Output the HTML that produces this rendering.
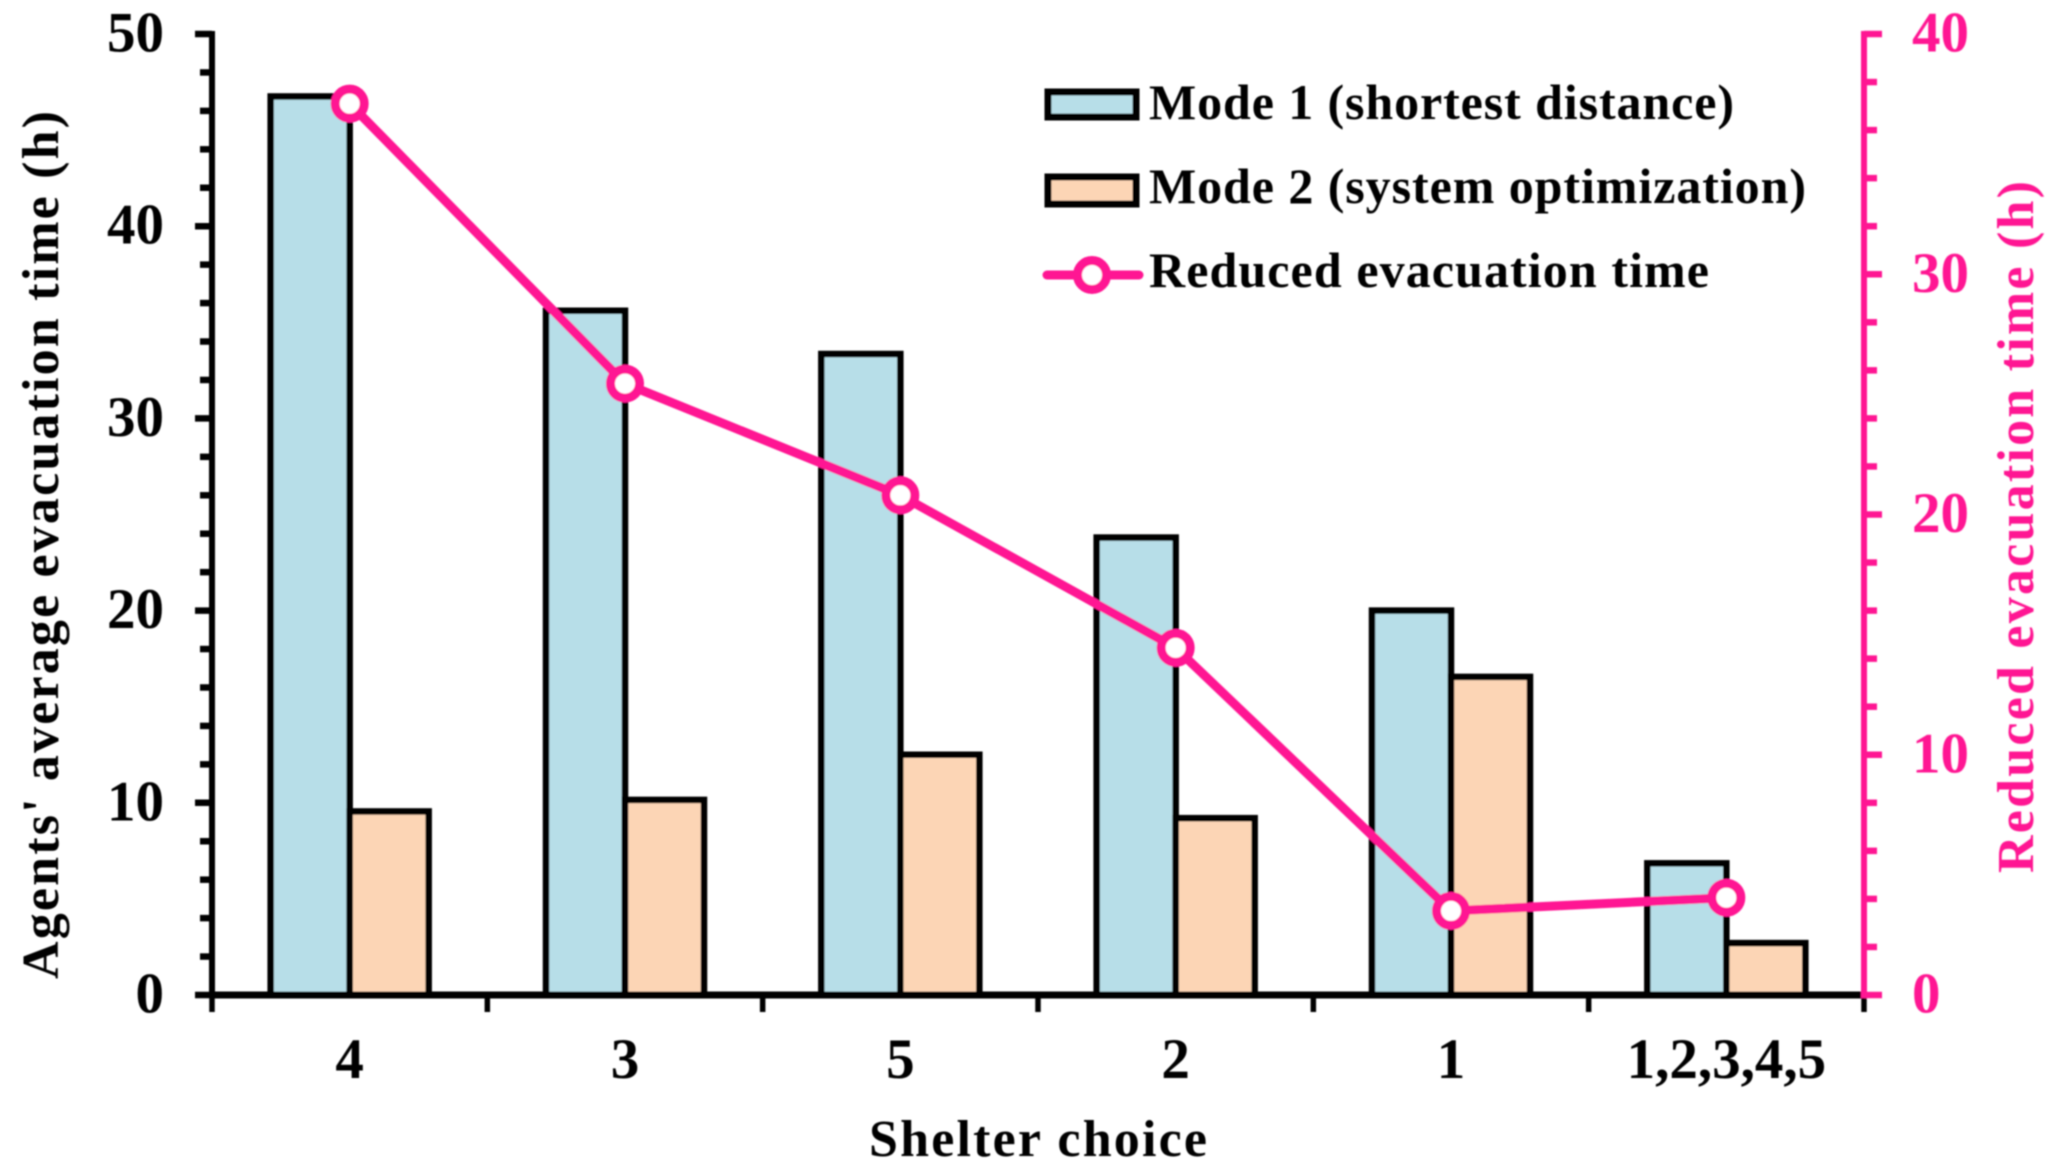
<!DOCTYPE html>
<html lang="en">
<head>
<meta charset="utf-8">
<title>Shelter choice evacuation time chart</title>
<style>
html,body{margin:0;padding:0;background:#fff;}
svg{display:block;}
text{font-family:"Liberation Serif",serif;font-weight:bold;}
</style>
</head>
<body>
<svg id="chart" xmlns="http://www.w3.org/2000/svg" width="2067" height="1172" viewBox="0 0 2067 1172">
  <defs>
    <filter id="soft" x="-2%" y="-2%" width="104%" height="104%"><feGaussianBlur stdDeviation="0.9"/></filter>
  </defs>
  <g id="root" filter="url(#soft)">
    <g id="bars"></g>
    <g id="axes"></g>
    <g id="line"></g>
    <g id="labels"></g>

    <text transform="translate(58,545) rotate(-90)" text-anchor="middle" font-size="52" textLength="868" lengthAdjust="spacing" fill="#000">Agents' average evacuation time (h)</text>
    <text transform="translate(2033,527) rotate(-90)" text-anchor="middle" font-size="52" textLength="692" lengthAdjust="spacing" fill="#ff1493">Reduced evacuation time (h)</text>
    <text x="1044" y="1161" dx="-6" dy="-5" text-anchor="middle" font-size="52" textLength="338" lengthAdjust="spacing" fill="#000">Shelter choice</text>

    <g>
      <rect x="1054" y="92" width="88" height="25" fill="#b7dee8" stroke="#000" stroke-width="7" transform="translate(-6,0)"/>
      <text x="1149" y="119" font-size="50" textLength="585" lengthAdjust="spacing" fill="#000">Mode 1 (shortest distance)</text>
      <rect x="1054" y="177" width="88" height="27" fill="#fcd5b5" stroke="#000" stroke-width="7" transform="translate(-6,0)"/>
      <text x="1149" y="203" font-size="50" textLength="657" lengthAdjust="spacing" fill="#000">Mode 2 (system optimization)</text>
      <line x1="1047" y1="275" x2="1139" y2="275" stroke="#ff1493" stroke-width="9" stroke-linecap="round"/>
      <circle cx="1092" cy="275" r="14.5" fill="#fff" stroke="#ff1493" stroke-width="9"/>
      <text x="1149" y="287" font-size="50" textLength="560" lengthAdjust="spacing" fill="#000">Reduced evacuation time</text>
    </g>
  </g>
</svg>
<script>
const categories = ["4", "3", "5", "2", "1", "1,2,3,4,5"];
const mode1Values = [46.75, 35.6, 33.35, 23.8, 20.0, 6.85];
const mode2Values = [9.55, 10.15, 12.5, 9.2, 16.55, 2.7];
const reducedValues = [37.1, 25.45, 20.8, 14.45, 3.5, 4.05];
const leftTickLabels = [0, 10, 20, 30, 40, 50];
const rightTickLabels = [0, 10, 20, 30, 40];

const NS = "http://www.w3.org/2000/svg";
const plotLeft = 212, plotRight = 1864, plotBottom = 995, plotTop = 34;
const leftMax = 50, rightMax = 40, barWidth = 79;
const PINK = "#ff1493";

function yLeft(v) { return plotBottom - (v / leftMax) * (plotBottom - plotTop); }
function yRight(v) { return plotBottom - (v / rightMax) * (plotBottom - plotTop); }
function xBoundary(i) { return plotLeft + i * (plotRight - plotLeft) / categories.length; }
function xCenter(i) { return xBoundary(i + 0.5); }

function make(tag, parent, attrs, text) {
  const el = document.createElementNS(NS, tag);
  for (const k in attrs) el.setAttribute(k, attrs[k]);
  if (text !== undefined) el.textContent = text;
  parent.appendChild(el);
  return el;
}

const bars = document.getElementById("bars");
const axes = document.getElementById("axes");
const lineGroup = document.getElementById("line");
const labels = document.getElementById("labels");

categories.forEach(function (cat, i) {
  const c = xCenter(i);
  const a = make("rect", bars, { x: c - barWidth, y: yLeft(mode1Values[i]), width: barWidth, height: plotBottom - yLeft(mode1Values[i]), fill: "#b7dee8", stroke: "#000", "stroke-width": 6.5 });
  
  
  const b = make("rect", bars, { x: c, y: yLeft(mode2Values[i]), width: barWidth, height: plotBottom - yLeft(mode2Values[i]), fill: "#fcd5b5", stroke: "#000", "stroke-width": 6.5 });
  
  
  const t = make("text", labels, { x: c, y: 1078, "text-anchor": "middle", "font-size": 57, fill: "#000" }, cat);
  
  
});

for (let i = 0; i <= categories.length; i++) {
  const tick = make("line", axes, { x1: xBoundary(i), x2: xBoundary(i), y1: plotBottom, y2: 1012, stroke: "#000", "stroke-width": 5.5 });
  
  
}

for (let v = 0; v <= leftMax; v += 2) {
  const major = v % 10 === 0;
  const tick = make("line", axes, { x1: major ? 195 : 200, x2: plotLeft, y1: yLeft(v), y2: yLeft(v), stroke: "#000", "stroke-width": 6.5 });
  
  
}

const leftAxis = make("line", axes, { x1: plotLeft, x2: plotLeft, y1: plotTop - 3, y2: plotBottom + 3, stroke: "#000", "stroke-width": 6 });



const xAxis = make("line", axes, { x1: plotLeft, x2: plotRight, y1: plotBottom, y2: plotBottom, stroke: "#000", "stroke-width": 7 });



for (let v = 0; v <= rightMax; v += 2) {
  const major = v % 10 === 0;
  const tick = make("line", axes, { x1: plotRight, x2: major ? 1882 : 1877, y1: yRight(v), y2: yRight(v), stroke: PINK, "stroke-width": 6.5 });
  
  
}

const rightAxis = make("line", axes, { x1: plotRight, x2: plotRight, y1: plotTop - 3, y2: plotBottom + 3, stroke: PINK, "stroke-width": 6 });



leftTickLabels.forEach(function (v) {
  const t = make("text", labels, { x: 164, y: yLeft(v) + 17.5, "text-anchor": "end", "font-size": 57, fill: "#000" }, v);
  
  
});

rightTickLabels.forEach(function (v) {
  const t = make("text", labels, { x: 1912, y: yRight(v) + 17.5, "text-anchor": "start", "font-size": 57, fill: PINK }, v);
  
  
});

const pts = reducedValues.map(function (v, i) { return xCenter(i) + "," + yRight(v); }).join(" ");
const polyline = make("polyline", lineGroup, { points: pts, fill: "none", stroke: PINK, "stroke-width": 9, "stroke-linejoin": "round" });



reducedValues.forEach(function (v, i) {
  const m = make("circle", lineGroup, { cx: xCenter(i), cy: yRight(v), r: 14.5, fill: "#fff", stroke: PINK, "stroke-width": 9 });
  
  
});
</script>
</body>
</html>
